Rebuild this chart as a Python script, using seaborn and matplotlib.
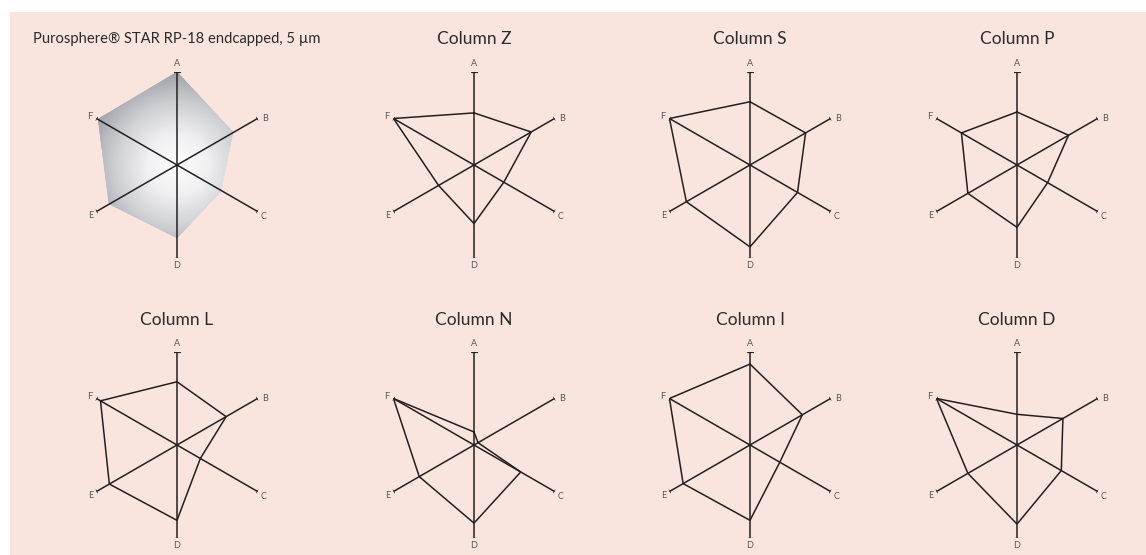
import numpy as np
import matplotlib
matplotlib.use("Agg")
import matplotlib.pyplot as plt
from matplotlib.colors import LinearSegmentedColormap
from matplotlib.patches import Rectangle
import seaborn as sns

# axes of the hexagon, clockwise from the top
categories = ["A", "B", "C", "D", "E", "F"]

titles = ["Purosphere\u00ae STAR RP-18 endcapped, 5 \u00b5m", "Column Z", "Column S", "Column P",
          "Column L", "Column N", "Column I", "Column D"]

# values (1.0 = end of axis)
purosphere = [1.00, 0.70, 0.55, 0.78, 0.84, 0.98]
col_z = [0.56, 0.71, 0.37, 0.63, 0.44, 1.00]
col_s = [0.68, 0.69, 0.59, 0.88, 0.79, 1.00]
col_p = [0.57, 0.64, 0.38, 0.67, 0.61, 0.69]
col_l = [0.68, 0.61, 0.29, 0.81, 0.84, 0.95]
col_n = [0.14, 0.05, 0.58, 0.84, 0.68, 1.00]
col_i = [0.87, 0.65, 0.37, 0.81, 0.83, 1.00]
col_d = [0.33, 0.57, 0.55, 0.85, 0.61, 1.00]

all_values = [purosphere, col_z, col_s, col_p, col_l, col_n, col_i, col_d]

sns.set_theme(style="white")
plt.rcParams["font.family"] = ["Lato", "DejaVu Sans"]

W, H = 1146, 555
fig = plt.figure(figsize=(W / 100, H / 100), dpi=100, facecolor="white")
fig.patches.append(Rectangle((10 / W, 0), 1 - 10 / W, 1 - 12 / H, transform=fig.transFigure,
                             facecolor="#fae4de", edgecolor="none", zorder=-10))

centers_x = [177, 474, 750, 1017]
centers_y = [165, 445]
title_y = [39, 320]
R = 93  # px, length of each axis

line_col = "#231f20"
grad = LinearSegmentedColormap.from_list("grad", ["#ffffff", "#f0f0f2", "#cfd0d4", "#9fa1a7"])

angles = np.deg2rad(np.arange(len(categories)) * 60)
# pixel offsets of the letter labels from the axis tips
label_off = {"A": (0, 8), "B": (8, 0), "C": (6, -5), "D": (0, -8), "E": (-6, -4), "F": (-7, 2)}

for k, vals in enumerate(all_values):
    row, col = divmod(k, 4)
    cx, cy = centers_x[col], centers_y[row]
    ax = fig.add_axes([(cx - R) / W, 1 - (cy + R) / H, 2 * R / W, 2 * R / H], projection="polar")
    ax.set_theta_zero_location("N")
    ax.set_theta_direction(-1)
    ax.set_ylim(0, 1)
    ax.patch.set_alpha(0)
    ax.grid(False)
    ax.set_xticks([])
    ax.set_yticks([])
    ax.spines["polar"].set_visible(False)

    th = np.append(angles, angles[0])
    v = np.append(vals, vals[0])

    if k == 0:
        poly = ax.fill(th, v, facecolor="none", edgecolor="none")[0]
        tg = np.linspace(0, 2 * np.pi, 181)
        rg = np.linspace(0, 1, 60)
        T, Rr = np.meshgrid(tg, rg)
        mesh = ax.pcolormesh(T, Rr, Rr, cmap=grad, vmin=0, vmax=1, shading="gouraud", zorder=1)
        mesh.set_clip_path(poly)
    else:
        ax.plot(th, v, color=line_col, lw=1.1, zorder=3)

    # axis spokes with small end caps
    for a, lab in zip(angles, categories):
        d = 0.03 if lab in ("A", "D") else 0.018
        ax.plot([a, a], [0, 1], color=line_col, lw=1.1, zorder=2)
        ax.plot([a - d, a + d], [1, 1], color=line_col, lw=0.9, zorder=2)
        dx, dy = label_off[lab]
        ax.annotate(lab, xy=(a, 1), xytext=(dx, dy), textcoords="offset pixels",
                    ha="center", va="center", fontsize=6.5, color="#555555", annotation_clip=False)

    fs = 10.6 if k == 0 else 12.5
    fig.text(cx / W, 1 - title_y[row] / H, titles[k], ha="center", va="center",
             fontsize=fs, color="#2b2b2b")

fig.savefig("out.png", dpi=100, facecolor=fig.get_facecolor())
